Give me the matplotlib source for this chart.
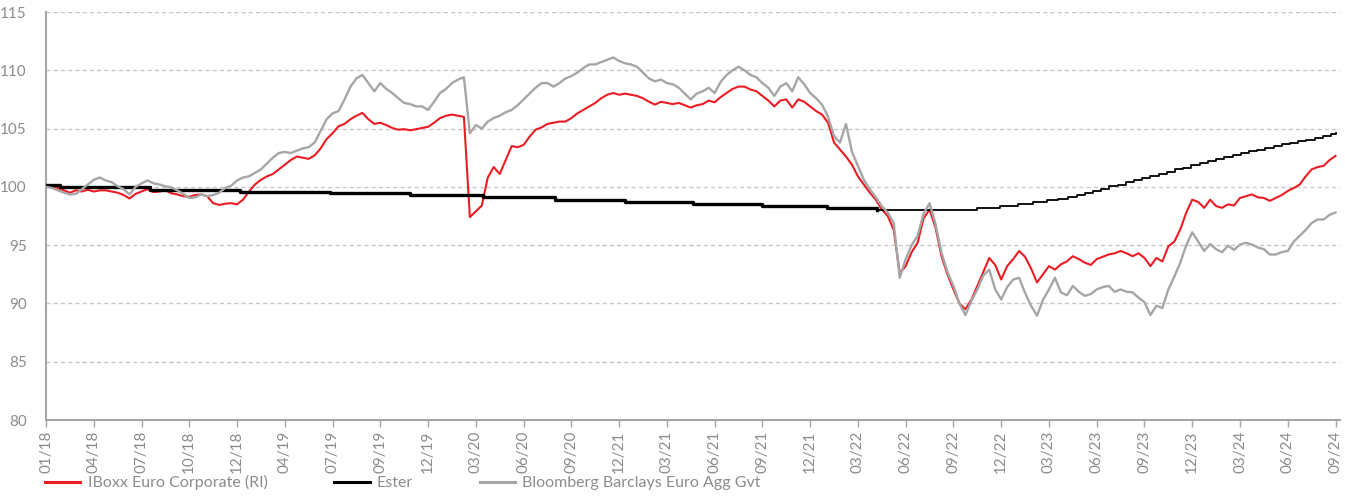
import matplotlib
matplotlib.use("Agg")
import matplotlib.pyplot as plt
import numpy as np

plt.rcParams['font.family'] = ['Lato', 'DejaVu Sans']

# x axis = observation number (daily index), red/grey sampled every 8 obs
tick_labels = ['01/18', '04/18', '07/18', '10/18', '12/18', '04/19', '07/19', '09/19',
               '12/19', '03/20', '06/20', '09/20', '12/21', '03/21', '06/21', '09/21',
               '12/21', '03/22', '06/22', '09/22', '12/22', '03/23', '06/23', '09/23',
               '12/23', '03/24', '06/24', '09/24']
tick_every = 64
sample_every = 8

iboxx = [100.1, 100.0, 99.9, 99.7, 99.5, 99.7, 99.6, 99.75, 99.6, 99.7,
         99.7, 99.6, 99.5, 99.3, 99.0, 99.4, 99.6, 99.8, 99.55, 99.6,
         99.7, 99.45, 99.35, 99.2, 99.15, 99.3, 99.35, 99.2, 98.6, 98.45,
         98.55, 98.6, 98.5, 98.9, 99.6, 100.2, 100.6, 100.9, 101.1, 101.5,
         101.9, 102.3, 102.6, 102.5, 102.4, 102.7, 103.3, 104.1, 104.6, 105.2,
         105.4, 105.8, 106.1, 106.35, 105.8, 105.4, 105.5, 105.3, 105.05, 104.9,
         104.95, 104.85, 104.95, 105.05, 105.15, 105.5, 105.9, 106.1, 106.2, 106.1,
         106.0, 97.4, 97.9, 98.4, 100.8, 101.7, 101.1, 102.3, 103.5, 103.4,
         103.6, 104.3, 104.9, 105.1, 105.4, 105.5, 105.6, 105.6, 105.9, 106.3,
         106.6, 106.9, 107.2, 107.6, 107.9, 108.05, 107.9, 108.0, 107.9, 107.8,
         107.6, 107.3, 107.05, 107.3, 107.2, 107.1, 107.2, 107.0, 106.8, 107.0,
         107.1, 107.4, 107.25, 107.7, 108.05, 108.4, 108.6, 108.6, 108.35, 108.2,
         107.8, 107.4, 106.9, 107.4, 107.5, 106.8, 107.5, 107.3, 106.9, 106.5,
         106.2, 105.5, 103.8, 103.2, 102.6, 101.9, 100.9, 100.2, 99.5, 98.9,
         98.05, 97.5, 96.3, 92.6, 93.2, 94.4, 95.2, 97.3, 98.05, 96.5,
         94.05, 92.5, 91.2, 90.0, 89.5, 90.3, 91.5, 92.7, 93.9, 93.3,
         92.05, 93.2, 93.8, 94.5, 94.0, 93.0, 91.8, 92.5, 93.2, 92.9,
         93.35, 93.6, 94.05, 93.8, 93.5, 93.3, 93.8, 94.0, 94.2, 94.3,
         94.5, 94.3, 94.05, 94.3, 93.9, 93.2, 93.9, 93.6, 94.9, 95.3,
         96.35, 97.8, 98.9, 98.7, 98.2, 98.9, 98.35, 98.2, 98.5, 98.4,
         99.05, 99.2, 99.35, 99.1, 99.05, 98.8, 99.05, 99.3, 99.65, 99.9,
         100.2, 100.9, 101.5, 101.7, 101.8, 102.3, 102.65]

bloomberg = [100.0, 99.9, 99.7, 99.5, 99.35, 99.4, 99.8, 100.2, 100.6, 100.8,
             100.55, 100.4, 100.05, 99.8, 99.35, 100.0, 100.3, 100.55, 100.3, 100.2,
             100.05, 99.95, 99.7, 99.4, 99.05, 99.1, 99.35, 99.2, 99.3, 99.5,
             99.9, 100.1, 100.55, 100.8, 100.9, 101.2, 101.5, 102.0, 102.5, 102.9,
             103.0, 102.9, 103.1, 103.3, 103.4, 103.8, 104.8, 105.8, 106.3, 106.5,
             107.5, 108.6, 109.3, 109.6, 108.9, 108.2, 108.9, 108.4, 108.05, 107.6,
             107.2, 107.1, 106.9, 106.9, 106.6, 107.3, 108.05, 108.4, 108.9, 109.2,
             109.4, 104.6, 105.3, 105.0, 105.6, 105.9, 106.1, 106.4, 106.6, 107.0,
             107.5, 108.0, 108.5, 108.9, 108.9, 108.6, 108.9, 109.3, 109.5, 109.8,
             110.2, 110.5, 110.5, 110.7, 110.9, 111.1, 110.8, 110.6, 110.5, 110.3,
             109.8, 109.3, 109.05, 109.2, 108.9, 108.8, 108.5, 108.0, 107.5, 108.0,
             108.2, 108.5, 108.05, 109.0, 109.6, 110.0, 110.3, 110.0, 109.6, 109.4,
             108.9, 108.5, 107.8, 108.6, 108.9, 108.2, 109.4, 108.8, 108.05, 107.6,
             107.05, 106.0, 104.35, 103.8, 105.4, 103.0, 101.8, 100.6, 99.8, 99.1,
             98.35, 97.8, 96.9, 92.2, 93.8, 95.0, 95.8, 97.7, 98.6, 96.8,
             94.35, 92.7, 91.5, 90.0, 89.0, 90.2, 91.2, 92.4, 92.9, 91.2,
             90.35, 91.4, 92.05, 92.2, 90.9, 89.8, 88.95, 90.3, 91.2, 92.2,
             90.95, 90.7, 91.5, 91.0, 90.65, 90.8, 91.2, 91.4, 91.5, 91.0,
             91.2, 91.0, 90.95, 90.5, 90.1, 89.0, 89.8, 89.6, 91.2, 92.3,
             93.5, 95.0, 96.1, 95.3, 94.5, 95.1, 94.65, 94.4, 94.95, 94.6,
             95.05, 95.2, 95.05, 94.8, 94.65, 94.2, 94.2, 94.4, 94.5, 95.3,
             95.8, 96.3, 96.9, 97.2, 97.2, 97.6, 97.8]

# Ester: level changes (observation where the level starts, level)
ester_start = [0, 19, 139, 260, 381, 488, 586, 682, 776, 867, 959, 1047, 1114,
               1248, 1278, 1303, 1323, 1341, 1356, 1370, 1381, 1392, 1403, 1414,
               1425, 1436, 1447, 1458, 1469, 1480, 1491, 1502, 1513, 1524, 1535,
               1546, 1557, 1568, 1579, 1590, 1601, 1612, 1623, 1634, 1645, 1656,
               1667, 1678, 1689, 1700, 1711, 1722, 1728]
ester_level = [100.15, 99.95, 99.75, 99.6, 99.45, 99.3, 99.15, 98.9, 98.7, 98.55,
               98.4, 98.15, 97.98, 98.2, 98.4, 98.55, 98.7, 98.85, 98.97, 99.1,
               99.3, 99.45, 99.65, 99.85, 100.05, 100.2, 100.4, 100.6, 100.75, 100.95,
               101.1, 101.3, 101.5, 101.65, 101.85, 102.05, 102.2, 102.4, 102.55, 102.75,
               102.9, 103.05, 103.2, 103.35, 103.5, 103.65, 103.8, 103.9, 104.05, 104.2,
               104.35, 104.55, 104.65]

x_samples = np.arange(len(iboxx)) * sample_every

fig = plt.figure(figsize=(13.45, 4.99), dpi=100)
ax = fig.add_axes([46 / 1345, 79 / 499, 1294 / 1345, 408 / 499])

txt = '#8c8c8c'
red = '#ec1c24'
grey = '#a6a6a6'

ax.plot(x_samples, iboxx, color=red, lw=1.5, label='IBoxx Euro Corporate (RI)', zorder=3)

# thick flat part, then the thinner rising part
cut = ester_start.index(1114)
ax.step(ester_start[:cut + 1], ester_level[:cut + 1], where='post', color='black', lw=2.4,
        label='Ester', zorder=4)
ax.step(ester_start[cut:], ester_level[cut:], where='post', color='black', lw=1.3, zorder=4)

ax.plot(x_samples, bloomberg, color=grey, lw=1.7, label='Bloomberg Barclays Euro Agg Gvt', zorder=5)

ax.set_ylim(80, 115)
ax.set_yticks(np.arange(80, 116, 5))
ax.set_xlim(0, 1734)
ax.set_xticks(np.arange(len(tick_labels)) * tick_every)
ax.set_xticklabels(tick_labels, rotation=90)

ax.grid(axis='y', color='#c8c8c8', linestyle=(0, (3, 2.2)), lw=1)
ax.set_axisbelow(True)
for s in ['top', 'right']:
    ax.spines[s].set_visible(False)
for s in ['left', 'bottom']:
    ax.spines[s].set_color('#a6a6a6')
    ax.spines[s].set_linewidth(1.5)

ax.tick_params(axis='y', length=0, pad=14, labelsize=11, labelcolor=txt)
ax.tick_params(axis='x', length=5, width=1, color='#a6a6a6', pad=3, labelsize=11, labelcolor=txt)

leg = fig.legend(loc='lower left', bbox_to_anchor=(34 / 1345, -0.005), ncol=3, frameon=False,
                 fontsize=11.5, handlelength=2.2, handletextpad=0.45, columnspacing=4.2,
                 borderpad=0.2)
for t in leg.get_texts():
    t.set_color(txt)
for h in leg.get_lines():
    h.set_linewidth(2.2)

fig.savefig('out.png', dpi=100)
